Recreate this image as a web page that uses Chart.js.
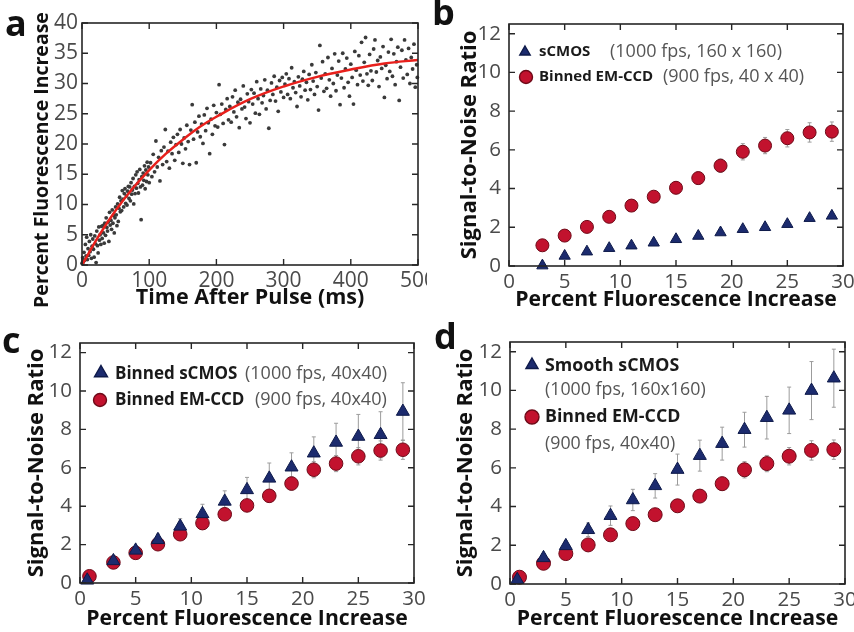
<!DOCTYPE html>
<html>
<head>
<meta charset="utf-8">
<script src="https://cdn.jsdelivr.net/npm/chart.js@4.4.0/dist/chart.umd.min.js"></script>
<style>
  body { margin: 0; background: #fff; }
  #page { position: relative; width: 854px; height: 632px; overflow: hidden; }
  canvas { position: absolute; }
</style>
</head>
<body>
<div id="page">
  <canvas id="panelA" width="427" height="316" style="left:0;top:0"></canvas>
  <canvas id="panelB" width="427" height="316" style="left:427px;top:0"></canvas>
  <canvas id="panelC" width="427" height="316" style="left:0;top:316px"></canvas>
  <canvas id="panelD" width="427" height="316" style="left:427px;top:316px"></canvas>
</div>
<script>
const FONT = "'Open Sans', 'Noto Sans', sans-serif";
const NAVY = "#1c2b6e";
const NAVY_EDGE = "#0e1a4a";
const RED = "#c2122e";
const RED_EDGE = "#6e0a18";

// ---- panel a: fluorescence rise after the pulse ----
const timeTicks = [0, 100, 200, 300, 400, 500];
const riseTicks = [0, 5, 10, 15, 20, 25, 30, 35, 40];
const fitTimeMs = [0, 25, 50, 75, 100, 125, 150, 175, 200, 250, 300, 350, 400, 450, 500];
const fitPct = [0, 4.8, 9.0, 12.6, 15.7, 18.4, 20.7, 22.8, 24.5, 27.4, 29.5, 31.1, 32.3, 33.3, 33.9];

// [time ms, percent increase]
const tracePoints = [
  [0,0.3],[1,1.2],[2,0.5],[3,2.1],[4,0.8],[5,3.4],[6,1.5],[7,4.6],[8,0.9],[9,2.7],[10,1.6],
  [11,3.9],[12,2.2],[13,5.0],[14,1.1],[15,3.1],[16,4.3],[17,2.6],[18,1.3],[19,4.8],[20,3.5],
  [21,0.4],[22,5.6],[23,3.2],[24,2.0],[25,6.3],[26,4.1],[27,5.0],[28,3.4],[29,6.4],[30,4.4],
  [31,6.5],[32,5.3],[33,3.6],[34,6.9],[35,4.9],[36,7.8],[37,6.2],[38,5.6],[39,7.1],[40,3.9],
  [41,8.7],[42,6.6],[43,7.4],[44,5.9],[45,9.1],[46,6.9],[47,8.2],[48,5.3],[49,7.8],[50,9.6],
  [51,8.3],[52,6.5],[53,10.1],[54,7.2],[55,9.4],[56,11.2],[57,8.8],[58,10.6],[59,9.0],[60,12.3],
  [61,10.9],[62,9.6],[63,11.8],[64,12.6],[65,10.2],[66,11.4],[67,9.9],[68,12.2],[69,13.0],[70,11.0],
  [71,12.9],[72,10.6],[73,13.6],[74,11.7],[75,12.4],[76,14.3],[77,10.1],[78,13.0],[79,11.8],[80,14.9],
  [81,12.7],[82,15.4],[83,13.5],[84,11.9],[85,14.1],[86,15.8],[87,12.9],[88,7.5],[89,14.6],[90,13.2],
  [91,15.2],[92,14.0],[93,16.4],[94,12.6],[95,15.7],[96,13.8],[97,17.0],[98,14.9],[99,16.2],[100,13.6],
  [102,16.9],[104,14.6],[106,18.3],[108,15.4],[110,20.5],[112,16.2],[114,17.8],[116,13.9],[118,18.9],[120,16.6],
  [122,19.5],[124,22.4],[126,17.1],[128,18.8],[130,16.0],[132,20.3],[134,18.4],[136,21.1],[138,17.3],[140,19.9],
  [142,21.6],[144,18.6],[146,22.4],[148,20.0],[150,16.8],[152,21.0],[154,19.2],[156,23.1],[158,20.4],[160,16.6],
  [162,22.3],[164,26.5],[166,20.8],[168,23.6],[170,16.9],[172,22.0],[174,24.6],[176,21.2],[178,23.3],[180,20.1],
  [182,24.8],[184,22.2],[186,25.9],[188,23.5],[190,18.4],[192,24.1],[194,21.6],[196,26.4],[198,23.0],[200,25.2],
  [202,22.8],[204,29.8],[206,24.9],[208,26.6],[210,23.4],[212,19.9],[214,25.7],[216,27.5],[218,24.0],[220,26.2],
  [222,23.6],[224,27.8],[226,25.3],[228,28.9],[230,24.5],[232,26.9],[234,22.7],[236,27.4],[238,25.8],[240,29.6],
  [242,26.1],[244,24.2],[246,28.3],[248,27.0],[250,23.5],[252,29.0],[254,26.6],[256,28.4],[258,25.1],[260,30.3],
  [262,27.5],[264,24.9],[266,29.1],[268,26.8],[270,28.0],[272,30.6],[274,25.8],[276,28.9],[278,22.6],[280,27.2],
  [282,30.1],[284,28.2],[286,31.2],[288,27.1],[290,29.4],[292,25.4],[294,30.5],[296,28.6],[298,31.0],[300,27.7],
  [302,29.9],[304,31.6],[306,28.2],[308,30.8],[310,27.5],[312,32.6],[314,29.3],[316,30.3],[318,28.5],[320,26.2],
  [322,31.1],[324,29.6],[326,27.8],[328,30.7],[330,32.0],[332,28.9],[334,30.2],[336,27.3],[338,31.5],[340,29.0],
  [342,33.1],[344,30.4],[346,28.2],[348,31.8],[350,29.5],[352,25.6],[354,36.3],[356,30.9],[358,33.6],[360,28.7],
  [362,31.6],[364,29.2],[366,34.3],[368,30.6],[370,27.9],[372,32.5],[374,30.0],[376,34.9],[378,28.8],[380,31.4],
  [382,33.7],[384,26.5],[386,30.9],[388,35.0],[390,29.3],[392,32.4],[394,34.2],[396,30.2],[398,27.9],[400,33.2],
  [402,31.0],[404,26.6],[406,35.3],[408,32.2],[410,29.8],[412,34.6],[414,31.4],[416,36.8],[418,30.4],[420,33.5],
  [422,37.6],[424,31.6],[426,29.7],[428,34.8],[430,32.1],[432,30.5],[434,35.7],[436,37.2],[438,31.9],[440,33.8],
  [442,29.5],[444,34.4],[446,32.5],[448,36.1],[450,27.7],[452,33.0],[454,30.8],[456,35.2],[458,32.0],[460,37.3],
  [462,31.2],[464,34.9],[466,29.8],[468,33.6],[470,36.0],[472,27.2],[474,32.7],[476,35.5],[478,30.9],[480,37.2],
  [482,33.9],[484,31.5],[486,35.8],[488,30.0],[490,34.3],[492,32.4],[494,36.5],[496,29.4],[498,33.1],[499,31.0]
];

// ---- panels b-d: signal-to-noise vs percent fluorescence increase ----
const pctTicks = [0, 5, 10, 15, 20, 25, 30];
const snrTicks = [0, 2, 4, 6, 8, 10, 12];

const emccdPct = [0.85, 3, 5, 7, 9, 11, 13, 15, 17, 19, 21, 23, 25, 27, 29];
const emccdSnr = [0.35, 1.07, 1.57, 2.02, 2.54, 3.12, 3.58, 4.04, 4.54, 5.18, 5.9, 6.22, 6.6, 6.9, 6.94];
const emccdErr = [0.1, 0.12, 0.15, 0.18, 0.2, 0.25, 0.28, 0.3, 0.32, 0.35, 0.42, 0.42, 0.45, 0.5, 0.5];

const scmosPct = [0.65, 3, 5, 7, 9, 11, 13, 15, 17, 19, 21, 23, 25, 27, 29];
const scmosRawSnr = [0, 0.02, 0.52, 0.74, 0.92, 1.05, 1.2, 1.38, 1.55, 1.73, 1.9, 2.0, 2.16, 2.47, 2.59];
const binnedScmosSnr = [0.14, 1.15, 1.7, 2.25, 2.95, 3.6, 4.25, 4.85, 5.45, 6.03, 6.76, 7.32, 7.63, 7.72, 8.93];
const binnedScmosErr = [0.1, 0.15, 0.2, 0.3, 0.4, 0.5, 0.55, 0.65, 0.8, 0.75, 0.85, 1.0, 1.15, 1.2, 1.5];
const smoothScmosSnr = [0.22, 1.35, 1.97, 2.8, 3.53, 4.34, 5.07, 5.91, 6.63, 7.25, 7.97, 8.59, 8.97, 9.99, 10.63];
const smoothScmosErr = [0.1, 0.2, 0.25, 0.35, 0.5, 0.55, 0.63, 0.8, 0.8, 0.85, 0.9, 1.1, 1.2, 1.5, 1.5];

const toXY = (xs, ys) => xs.map((x, i) => ({ x: x, y: ys[i] }));

// box, inward ticks, error bars, legend and the panel letter
const framePlugin = {
    id: "frame",
    beforeDatasetsDraw(chart) {
        const ctx = chart.ctx;
        const xs = chart.scales.x, ys = chart.scales.y;
        chart.data.datasets.forEach((ds) => {
            if (!ds.errors) return;
            ctx.save();
            ctx.strokeStyle = "#9c9c9c";
            ctx.lineWidth = 1;
            ds.data.forEach((p, i) => {
                const px = xs.getPixelForValue(p.x);
                const top = ys.getPixelForValue(p.y + ds.errors[i]);
                const bot = ys.getPixelForValue(p.y - ds.errors[i]);
                ctx.beginPath();
                ctx.moveTo(px, top); ctx.lineTo(px, bot);
                ctx.moveTo(px - 2, top); ctx.lineTo(px + 2, top);
                ctx.moveTo(px - 2, bot); ctx.lineTo(px + 2, bot);
                ctx.stroke();
            });
            ctx.restore();
        });
    },
    afterDraw(chart, args, opts) {
        const ctx = chart.ctx;
        const a = chart.chartArea;
        const xs = chart.scales.x, ys = chart.scales.y;
        ctx.save();
        ctx.strokeStyle = "#262626";
        ctx.lineWidth = 1.6;
        ctx.strokeRect(a.left, a.top, a.right - a.left, a.bottom - a.top);
        ctx.lineWidth = 1.4;
        ctx.beginPath();
        xs.ticks.forEach((t) => {
            const px = xs.getPixelForValue(t.value);
            ctx.moveTo(px, a.bottom); ctx.lineTo(px, a.bottom - 6);
            ctx.moveTo(px, a.top); ctx.lineTo(px, a.top + 6);
        });
        ys.ticks.forEach((t) => {
            const py = ys.getPixelForValue(t.value);
            ctx.moveTo(a.left, py); ctx.lineTo(a.left + 6, py);
            ctx.moveTo(a.right, py); ctx.lineTo(a.right - 6, py);
        });
        ctx.stroke();

        const lg = opts.legend;
        if (lg) {
            lg.markers.forEach((m) => {
                ctx.fillStyle = m.color;
                ctx.strokeStyle = m.edge;
                Chart.helpers.drawPoint(ctx, { pointStyle: m.style, radius: m.r, borderWidth: 1 }, m.x, m.y);
            });
            ctx.textBaseline = "middle";
            ctx.textAlign = "left";
            lg.texts.forEach((t) => {
                ctx.font = `${t.bold ? "bold " : ""}${t.bold ? lg.size : lg.noteSize}px ${FONT}`;
                ctx.fillStyle = t.bold ? "#1a1a1a" : "#555";
                ctx.fillText(t.text, t.x, t.y);
            });
        }

        // panel a's y title sits lower than the axis centre, so it is placed by hand
        const st = opts.sideTitle;
        if (st) {
            ctx.save();
            ctx.translate(st.x, st.y);
            ctx.rotate(-Math.PI / 2);
            ctx.font = `bold ${st.size}px ${FONT}`;
            ctx.fillStyle = "#111";
            ctx.textAlign = "center";
            ctx.textBaseline = "middle";
            ctx.fillText(st.text, 0, 0);
            ctx.restore();
        }

        ctx.font = `bold 36px ${FONT}`;
        ctx.fillStyle = "#111";
        ctx.textBaseline = "alphabetic";
        ctx.textAlign = "left";
        ctx.fillText(opts.letter.text, opts.letter.x, opts.letter.y);
        ctx.restore();
    },
};

function axis(o) {
    return {
        type: "linear",
        position: o.position,
        min: o.min,
        max: o.max,
        grid: { display: false, drawTicks: false },
        border: { display: false },
        ticks: {
            padding: o.tickPad,
            color: "#4a4a4a",
            font: { family: FONT, size: o.tickSize },
            maxRotation: 0,
            autoSkip: false,
        },
        title: {
            display: !!o.title,
            text: o.title,
            color: "#111",
            font: { family: FONT, size: o.titleSize, weight: "bold" },
            padding: o.titlePad,
        },
        afterBuildTicks(scale) {
            scale.ticks = o.ticks.map((v) => ({ value: v }));
        },
        afterFit(scale) {
            if (o.position === "left") {
                scale.width = o.size;
                scale.paddingTop = 0;
                scale.paddingBottom = 0;
            } else {
                scale.height = o.size;
                scale.paddingLeft = 0;
                scale.paddingRight = 0;
            }
        },
    };
}

function baseOptions(p) {
    return {
        responsive: false,
        animation: false,
        layout: { padding: { left: 0, top: p.top, right: p.right, bottom: 0 } },
        plugins: {
            legend: { display: false },
            tooltip: { enabled: false },
            frame: { letter: p.letter, legend: p.legend, sideTitle: p.sideTitle },
        },
        scales: {
            x: axis(p.x),
            y: axis(p.y),
        },
    };
}

// panel a
new Chart(document.getElementById("panelA"), {
    type: "scatter",
    data: {
        datasets: [
            {
                data: toXY(fitTimeMs, fitPct),
                showLine: true,
                borderColor: "#e8201c",
                borderWidth: 2.5,
                pointRadius: 0,
                tension: 0.4,
                order: 0,
            },
            {
                data: tracePoints.map((p) => ({ x: p[0], y: p[1] })),
                pointRadius: 1.9,
                pointBorderWidth: 0,
                backgroundColor: "#3a3a3a",
                order: 1,
                clip: false,
            },
        ],
    },
    options: baseOptions({
        top: 23, right: 9,
        letter: { text: "a", x: 5, y: 36 },
        sideTitle: { text: "Percent Fluorescence Increase", x: 42, y: 160, size: 19.5 },
        x: { position: "bottom", min: 0, max: 500, ticks: timeTicks, tickPad: 3, tickSize: 21,
             title: "Time After Pulse (ms)", titleSize: 21.5, titlePad: { top: 0, bottom: 5 }, size: 51 },
        y: { position: "left", min: 0, max: 40, ticks: riseTicks, tickPad: 4, tickSize: 21,
             title: "", size: 82 },
    }),
    plugins: [framePlugin],
});

function snrPanel(id, p, datasets) {
    new Chart(document.getElementById(id), {
        type: "scatter",
        data: { datasets: datasets },
        options: baseOptions({
            top: p.top, right: p.right, letter: p.letter, legend: p.legend,
            x: { position: "bottom", min: 0, max: 30, ticks: pctTicks, tickPad: 4, tickSize: 20.5,
                 title: "Percent Fluorescence Increase", titleSize: 21.2, titlePad: { top: 0, bottom: p.xTitlePad }, size: p.xSize },
            y: { position: "left", min: 0, max: 12.5, ticks: snrTicks, tickPad: 8, tickSize: 20.5,
                 title: "Signal-to-Noise Ratio", titleSize: 22, titlePad: { top: p.yTitlePad, bottom: 0 }, size: p.ySize },
        }),
        plugins: [framePlugin],
    });
}

function triangles(xs, ys, errs, r) {
    return {
        data: toXY(xs, ys), errors: errs, pointStyle: "triangle", pointRadius: r,
        backgroundColor: NAVY, borderColor: NAVY_EDGE, borderWidth: 1, clip: false, order: 0,
    };
}
function circles(xs, ys, errs, r) {
    return {
        data: toXY(xs, ys), errors: errs, pointStyle: "circle", pointRadius: r,
        backgroundColor: RED, borderColor: RED_EDGE, borderWidth: 1, clip: false, order: 1,
    };
}

// panel b
snrPanel("panelB", {
    top: 24, right: 11, xSize: 50, ySize: 82, xTitlePad: 3, yTitlePad: 30,
    letter: { text: "b", x: 5, y: 25 },
    legend: {
        size: 15, noteSize: 18,
        markers: [
            { style: "triangle", x: 98, y: 52, r: 6, color: NAVY, edge: NAVY_EDGE },
            { style: "circle", x: 99, y: 77, r: 6.5, color: RED, edge: RED_EDGE },
        ],
        texts: [
            { text: "sCMOS", x: 112, y: 52, bold: true },
            { text: "(1000 fps, 160 x 160)", x: 183, y: 52 },
            { text: "Binned EM-CCD", x: 112, y: 77, bold: true },
            { text: "(900 fps, 40 x 40)", x: 236, y: 77 },
        ],
    },
}, [
    triangles(scmosPct.slice(1), scmosRawSnr.slice(1), null, 6.5),
    circles(emccdPct.slice(1), emccdSnr.slice(1), emccdErr.slice(1), 6.5),
]);

// panel c
snrPanel("panelC", {
    top: 27, right: 13, xSize: 49, ySize: 80, xTitlePad: 0, yTitlePad: 24,
    letter: { text: "c", x: 2, y: 37 },
    legend: {
        size: 17, noteSize: 18,
        markers: [
            { style: "triangle", x: 101, y: 57, r: 7.5, color: NAVY, edge: NAVY_EDGE },
            { style: "circle", x: 100, y: 84, r: 6.5, color: RED, edge: RED_EDGE },
        ],
        texts: [
            { text: "Binned sCMOS", x: 115, y: 58, bold: true },
            { text: "(1000 fps, 40x40)", x: 245, y: 58 },
            { text: "Binned EM-CCD", x: 115, y: 84, bold: true },
            { text: "(900 fps, 40x40)", x: 255, y: 84 },
        ],
    },
}, [
    triangles(scmosPct, binnedScmosSnr, binnedScmosErr, 7.5),
    circles(emccdPct, emccdSnr, emccdErr, 6.8),
]);

// panel d
snrPanel("panelD", {
    top: 26, right: 9, xSize: 48, ySize: 83, xTitlePad: 0, yTitlePad: 26,
    letter: { text: "d", x: 7, y: 33 },
    legend: {
        size: 17.8, noteSize: 17.8,
        markers: [
            { style: "triangle", x: 105, y: 49, r: 7, color: NAVY, edge: NAVY_EDGE },
            { style: "circle", x: 105, y: 101, r: 7, color: RED, edge: RED_EDGE },
        ],
        texts: [
            { text: "Smooth sCMOS", x: 118, y: 50, bold: true },
            { text: "(1000 fps, 160x160)", x: 118, y: 74 },
            { text: "Binned EM-CCD", x: 118, y: 101, bold: true },
            { text: "(900 fps, 40x40)", x: 118, y: 128 },
        ],
    },
}, [
    triangles(scmosPct, smoothScmosSnr, smoothScmosErr, 7.5),
    circles(emccdPct, emccdSnr, emccdErr, 7),
]);
</script>
</body>
</html>
